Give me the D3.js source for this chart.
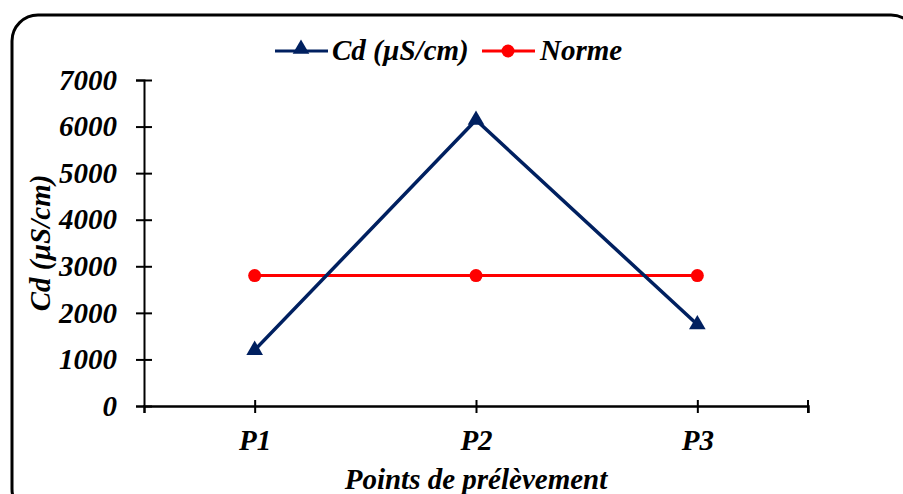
<!DOCTYPE html>
<html>
<head>
<meta charset="utf-8">
<script src="https://cdn.jsdelivr.net/npm/d3@7"></script>
<style>
  body { margin: 0; background: #fff; }
  text { font-family: "Liberation Serif", "Times New Roman", serif; font-weight: bold; font-style: italic; }
</style>
</head>
<body>
<div id="chart"></div>
<script>
const points = ["P1", "P2", "P3"]
const cd_values = [1200, 6140, 1750]
const norme_values = [2800, 2800, 2800]
const y_ticks = [0, 1000, 2000, 3000, 4000, 5000, 6000, 7000]

const width = 903
const height = 494
const navy = "#002060"
const red = "#ff0000"
const font_size = 29

const svg = d3.select('#chart')
    .append('svg')
    .attr('width', width)
    .attr('height', height)

// outer frame, right and bottom run off the picture
svg.append('rect')
    .attr('x', 12).attr('y', 15)
    .attr('width', 905).attr('height', 500)
    .attr('rx', 26).attr('ry', 26)
    .attr('fill', 'none')
    .attr('stroke', '#000')
    .attr('stroke-width', 3)

const x = d3.scalePoint()
    .domain(points)
    .range([144, 808])
    .padding(0.5)

const y = d3.scaleLinear()
    .domain([0, 7000])
    .range([406, 80])

// y axis
const y_axis = svg.append('g')
    .attr('transform', 'translate(144,0)')
    .call(d3.axisLeft(y).tickValues(y_ticks).tickFormat(d3.format('d')).tickSize(8).tickPadding(19))
y_axis.select('.domain').attr('stroke', '#000').attr('stroke-width', 2)
y_axis.selectAll('.tick line').attr('x2', 8).attr('x1', -8).attr('stroke-width', 2)
y_axis.selectAll('.tick text')
    .attr('font-size', font_size)
    .attr('font-family', 'Liberation Serif')
    .attr('fill', '#000')

// x axis
const x_axis = svg.append('g')
    .attr('transform', `translate(0,${y(0)})`)
    .call(d3.axisBottom(x).tickSizeOuter(0).tickSize(7).tickPadding(16))
x_axis.select('.domain').attr('stroke', '#000').attr('stroke-width', 2.5)
x_axis.selectAll('.tick line').attr('y1', -6).attr('y2', 7).attr('stroke-width', 2)
x_axis.selectAll('.tick text')
    .attr('font-size', font_size)
    .attr('font-family', 'Liberation Serif')
    .attr('fill', '#000')
// end tick of the x axis
x_axis.append('line')
    .attr('x1', 808).attr('x2', 808)
    .attr('y1', -6).attr('y2', 7)
    .attr('stroke', '#000').attr('stroke-width', 2)

// axis titles
svg.append('text')
    .attr('transform', `translate(50,${(y(0) + y(7000)) / 2}) rotate(-90)`)
    .attr('text-anchor', 'middle')
    .attr('font-size', font_size)
    .text('Cd (µS/cm)')

svg.append('text')
    .attr('x', 476).attr('y', 489)
    .attr('text-anchor', 'middle')
    .attr('font-size', font_size)
    .text('Points de prélèvement')

const line = d3.line()
    .x((d, i) => x(points[i]))
    .y(d => y(d))

// Norme series
svg.append('path')
    .datum(norme_values)
    .attr('d', line)
    .attr('fill', 'none')
    .attr('stroke', red)
    .attr('stroke-width', 3)
svg.selectAll('.norme-dot')
    .data(norme_values)
    .enter()
    .append('circle')
    .attr('cx', (d, i) => x(points[i]))
    .attr('cy', d => y(d))
    .attr('r', 6.5)
    .attr('fill', red)

// Cd series
svg.append('path')
    .datum(cd_values)
    .attr('d', line)
    .attr('fill', 'none')
    .attr('stroke', navy)
    .attr('stroke-width', 3.5)
const triangle = d3.symbol().type(d3.symbolTriangle).size(120)
svg.selectAll('.cd-mark')
    .data(cd_values)
    .enter()
    .append('path')
    .attr('d', triangle)
    .attr('transform', (d, i) => `translate(${x(points[i])},${y(d)})`)
    .attr('fill', navy)

// legend
const legend = svg.append('g')
legend.append('line')
    .attr('x1', 275).attr('x2', 328).attr('y1', 51).attr('y2', 51)
    .attr('stroke', navy).attr('stroke-width', 3)
legend.append('path')
    .attr('d', triangle)
    .attr('transform', 'translate(301,49)')
    .attr('fill', navy)
legend.append('text')
    .attr('x', 332).attr('y', 60)
    .attr('font-size', font_size)
    .text('Cd (µS/cm)')
legend.append('line')
    .attr('x1', 482).attr('x2', 535).attr('y1', 51).attr('y2', 51)
    .attr('stroke', red).attr('stroke-width', 3)
legend.append('circle')
    .attr('cx', 508).attr('cy', 51).attr('r', 6.5)
    .attr('fill', red)
legend.append('text')
    .attr('x', 540).attr('y', 60)
    .attr('font-size', font_size)
    .text('Norme')
</script>
</body>
</html>
